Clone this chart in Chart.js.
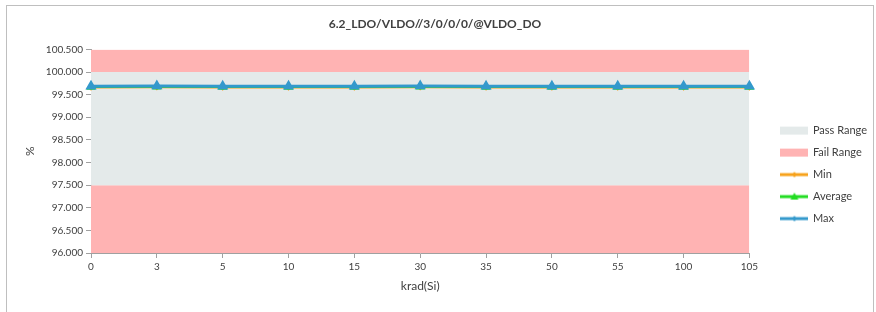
<!DOCTYPE html>
<html>
<head>
<meta charset="utf-8">
<script src="https://cdn.jsdelivr.net/npm/chart.js@4/dist/chart.umd.min.js"></script>
<style>
  html, body { margin: 0; padding: 0; background: #fff; }
  #frame { position: absolute; left: 6px; top: 5px; width: 866px; height: 320px; border: 1px solid #BFBFBF; }
  #wrap { position: absolute; left: 0; top: 0; width: 876px; height: 312px; }
</style>
</head>
<body>
<div id="frame"></div>
<div id="wrap"><canvas id="myChart" width="876" height="312"></canvas></div>
<script>
const categorias = ["0", "3", "5", "10", "15", "30", "35", "50", "55", "100", "105"];
const valoresMin = [99.655, 99.66, 99.655, 99.655, 99.655, 99.66, 99.655, 99.655, 99.655, 99.655, 99.655];
const valoresAverage = [99.67, 99.675, 99.67, 99.67, 99.67, 99.675, 99.67, 99.67, 99.67, 99.67, 99.67];
const valoresMax = [99.685, 99.69, 99.685, 99.685, 99.685, 99.69, 99.685, 99.685, 99.685, 99.685, 99.685];
const limitePassAlto = 100.0;
const limitePassBajo = 97.5;
const limiteEjeAlto = 100.5;
const limiteEjeBajo = 96.0;

const colorPass = "#E4EAEA";
const colorFail = "#FFB3B3";
const colorMin = "#F7A21B";
const colorAverage = "#22DD22";
const colorMax = "#3399CC";
const fuente = "Lato, 'Open Sans', sans-serif";

// icono pequeño para la leyenda
function crearIcono(tipo, color) {
  const c = document.createElement("canvas");
  c.width = 28;
  c.height = 10;
  const ctx = c.getContext("2d");
  if (tipo === "rango") {
    ctx.fillStyle = color;
    ctx.fillRect(0, 1, 28, 8);
  } else {
    ctx.strokeStyle = color;
    ctx.lineWidth = 3;
    ctx.beginPath();
    ctx.moveTo(0, 5);
    ctx.lineTo(28, 5);
    ctx.stroke();
    ctx.fillStyle = color;
    ctx.beginPath();
    if (tipo === "triangulo") {
      ctx.moveTo(14, 1);
      ctx.lineTo(18, 8);
      ctx.lineTo(10, 8);
    } else {
      ctx.moveTo(14, 2);
      ctx.lineTo(16, 5);
      ctx.lineTo(14, 8);
      ctx.lineTo(12, 5);
    }
    ctx.closePath();
    ctx.fill();
  }
  return c;
}

const iconos = {
  "Pass Range": crearIcono("rango", colorPass),
  "Fail Range": crearIcono("rango", colorFail),
  "Min": crearIcono("rombo", colorMin),
  "Average": crearIcono("triangulo", colorAverage),
  "Max": crearIcono("rombo", colorMax),
};

function banda(label, valor, hasta, color) {
  return {
    label,
    data: categorias.map(() => valor),
    fill: { value: hasta },
    backgroundColor: color,
    borderWidth: 0,
    pointRadius: 0,
    order: 10,
  };
}

const datasets = [
  banda("Pass Range", limitePassAlto, limitePassBajo, colorPass),
  banda("Fail Range", limiteEjeAlto, limitePassAlto, colorFail),
  banda("Fail Range Low", limitePassBajo, limiteEjeBajo, colorFail),
  {
    label: "Min",
    data: valoresMin,
    borderColor: colorMin,
    backgroundColor: colorMin,
    borderWidth: 1.5,
    pointStyle: "rectRot",
    pointRadius: 2,
    fill: false,
    order: 3,
  },
  {
    label: "Average",
    data: valoresAverage,
    borderColor: colorAverage,
    backgroundColor: colorAverage,
    borderWidth: 2,
    pointStyle: "triangle",
    pointRadius: 3.5,
    fill: false,
    order: 2,
  },
  {
    label: "Max",
    data: valoresMax,
    borderColor: colorMax,
    backgroundColor: colorMax,
    borderWidth: 3,
    pointStyle: "triangle",
    pointRadius: 3.5,
    fill: false,
    order: 1,
  },
];

// mover la leyenda un poco a la derecha, como en el original
const moverLeyenda = {
  id: "moverLeyenda",
  afterLayout(chart) {
    chart.legend.left += 21;
    chart.legend.right += 21;
  },
};

const config = {
  type: "line",
  data: { labels: categorias, datasets },
  plugins: [moverLeyenda],
  options: {
    responsive: false,
    animation: false,
    layout: { padding: { left: 14, right: 20, top: 7, bottom: 6 } },
    plugins: {
      title: {
        display: true,
        text: "6.2_LDO/VLDO//3/0/0/0/@VLDO_DO",
        color: "#404040",
        font: { family: fuente, size: 12, weight: "bold" },
        padding: { top: 10, bottom: 18 },
      },
      legend: {
        position: "right",
        title: { display: true, text: " ", font: { size: 11 }, padding: { top: 12, bottom: 11 } },
        labels: {
          usePointStyle: true,
          pointStyleWidth: 26,
          color: "#404040",
          font: { family: fuente, size: 11 },
          padding: 11,
          boxHeight: 10,
          filter: (item) => item.text !== "Fail Range Low",
          generateLabels: (chart) =>
            chart.data.datasets.map((ds, i) => ({
              text: ds.label,
              datasetIndex: i,
              pointStyle: iconos[ds.label],
              fillStyle: "transparent",
              strokeStyle: "transparent",
              lineWidth: 0,
              fontColor: "#404040",
              hidden: false,
            })),
        },
      },
      tooltip: { enabled: false },
    },
    scales: {
      x: {
        offset: false,
        afterFit: (s) => { s.height = 53; },
        title: {
          display: true,
          text: "krad(Si)",
          color: "#404040",
          font: { family: fuente, size: 12 },
          padding: { top: 2, bottom: 13 },
        },
        grid: { drawOnChartArea: false, color: "#A0A0A0", tickLength: 5 },
        border: { color: "#A0A0A0" },
        ticks: { color: "#404040", font: { family: fuente, size: 10 }, maxRotation: 0, autoSkip: false },
      },
      y: {
        min: limiteEjeBajo,
        max: limiteEjeAlto,
        afterFit: (s) => { s.width = 77; },
        title: {
          display: true,
          text: "%",
          color: "#404040",
          font: { family: fuente, size: 12 },
          padding: { top: 9 },
        },
        grid: { drawOnChartArea: false, color: "#A0A0A0", tickLength: 5 },
        border: { color: "#A0A0A0" },
        ticks: {
          stepSize: 0.5,
          color: "#404040",
          font: { family: fuente, size: 10 },
          callback: (v) => Number(v).toFixed(3),
        },
      },
    },
  },
};

const canvas = document.getElementById("myChart");
const myChart = new Chart(canvas, config);
</script>
</body>
</html>
